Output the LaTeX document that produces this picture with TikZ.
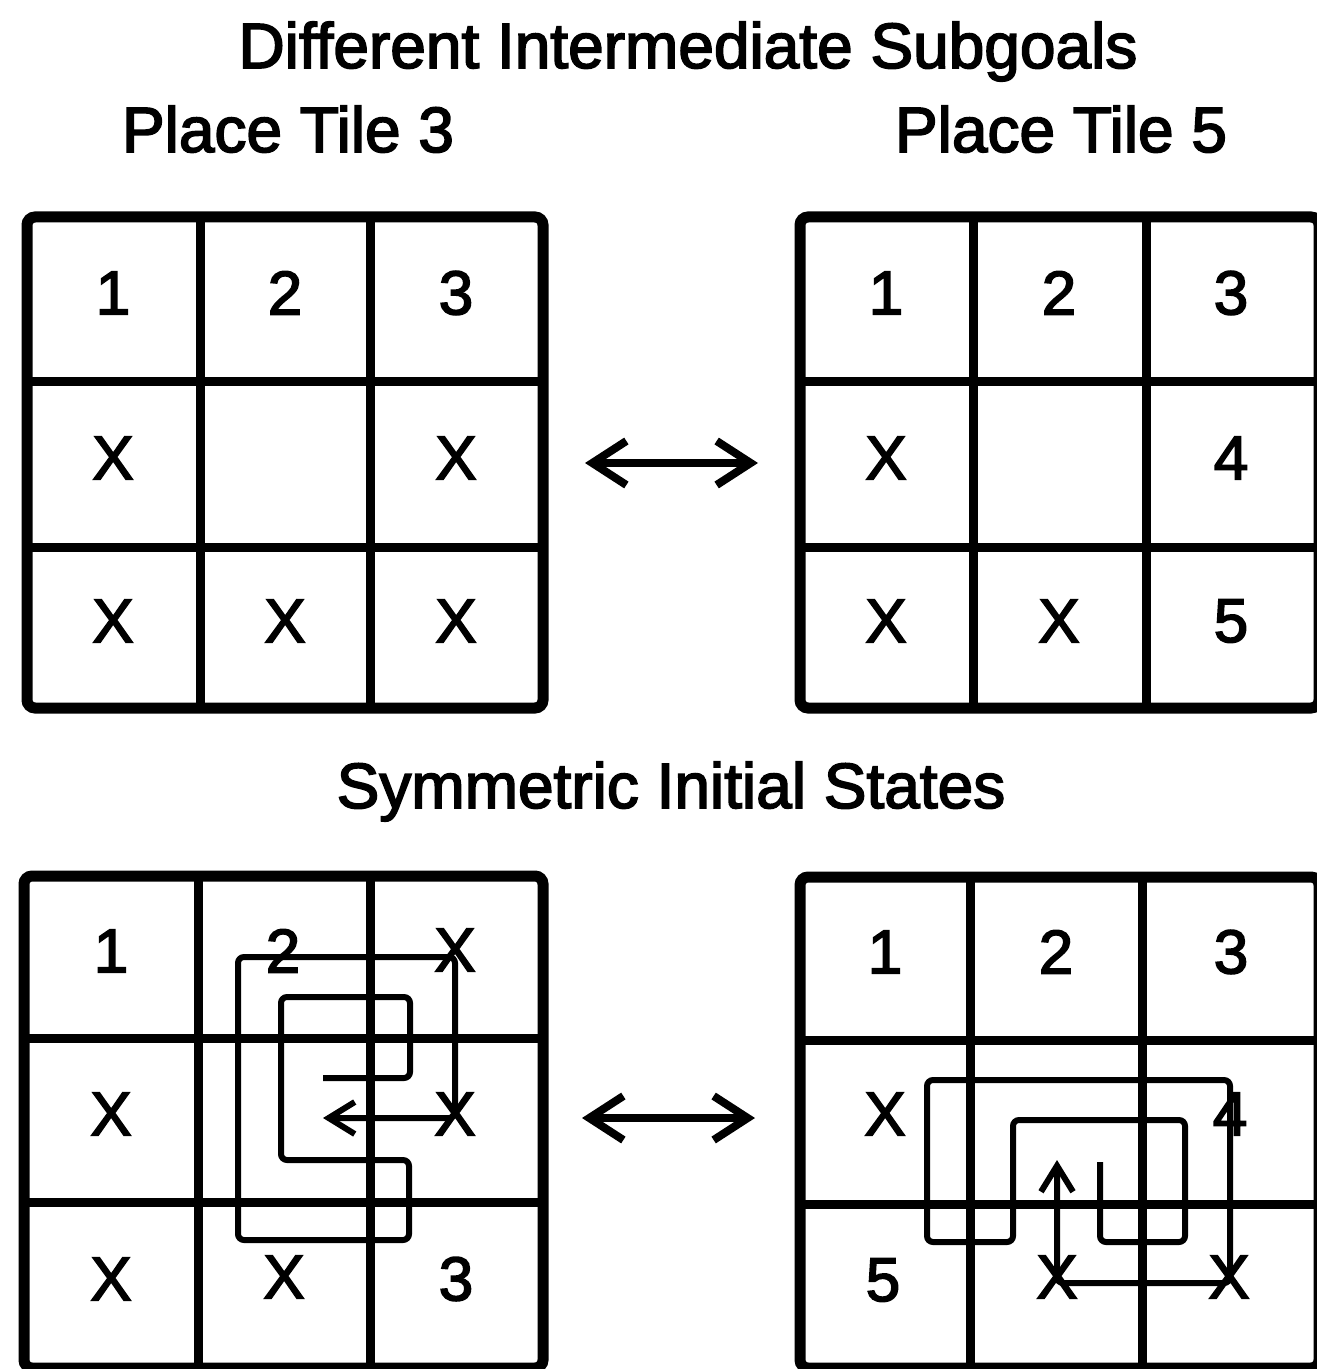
\documentclass[tikz,border=0pt]{standalone}
\usepackage{fontspec}
\setmainfont{Liberation Sans}
\newfontfamily\heavyfont{Liberation Sans}[FakeBold=2.6]
\usetikzlibrary{arrows.meta}
\newcommand{\pgrid}[8]{%
  \draw[gridline] (#2,#5) -- (#2,#8);
  \draw[gridline] (#3,#5) -- (#3,#8);
  \draw[gridline] (#1,#6) -- (#4,#6);
  \draw[gridline] (#1,#7) -- (#4,#7);
  \draw[border] (#1,#5) rectangle (#4,#8);
}
\begin{document}
\begin{tikzpicture}[x=0.5pt,y=-0.5pt,
  gridline/.style={line width=4.5pt},
  border/.style={line width=5.5pt, rounded corners=4pt},
  title/.style={font=\heavyfont\fontsize{32}{38}\selectfont, anchor=base, inner sep=0pt},
  celltext/.style={font=\heavyfont\fontsize{31}{36}\selectfont, inner sep=0pt},
  swaparrow/.style={line width=4pt, line cap=round,
    {Straight Barb[length=17pt,width=22pt]}-{Straight Barb[length=17pt,width=22pt]}},
  movepath/.style={line width=3pt, rounded corners=3pt,
    -{Straight Barb[length=13pt,width=16pt]}},
]
\useasboundingbox (0,0) rectangle (1316,1369);

% titles
\node[title] (t1) at (688,68) {Different Intermediate Subgoals};
\node[title] (t2) at (288,152) {Place Tile 3};
\node[title] (t3) at (1061,152) {Place Tile 5};
\node[title] (t4) at (671,808) {Symmetric Initial States};

% grids
\pgrid{27}{200}{370}{543}{217}{381}{547}{708}
\pgrid{800}{973}{1146}{1319}{217}{381}{547}{708}
\pgrid{24}{198}{370}{543}{876}{1038}{1202}{1368}
\pgrid{800}{970}{1142}{1319}{877}{1040}{1204}{1368}

% top-left grid texts
\node[celltext] (tl11) at (113,293) {1};
\node[celltext] (tl12) at (285,293) {2};
\node[celltext] (tl13) at (456,293) {3};
\node[celltext] (tl21) at (113,458) {X};
\node[celltext] (tl23) at (456,458) {X};
\node[celltext] (tl31) at (113,621) {X};
\node[celltext] (tl32) at (285,621) {X};
\node[celltext] (tl33) at (456,621) {X};

% top-right grid texts
\node[celltext] (tr11) at (886,293) {1};
\node[celltext] (tr12) at (1059,293) {2};
\node[celltext] (tr13) at (1231,293) {3};
\node[celltext] (tr21) at (886,458) {X};
\node[celltext] (tr23) at (1231,458) {4};
\node[celltext] (tr31) at (886,621) {X};
\node[celltext] (tr32) at (1059,621) {X};
\node[celltext] (tr33) at (1231,621) {5};

% bottom-left grid texts
\node[celltext] (bl11) at (111,951) {1};
\node[celltext] (bl12) at (283,951) {2};
\node[celltext] (bl13) at (455,950) {X};
\node[celltext] (bl21) at (111,1114) {X};
\node[celltext] (bl23) at (455,1114) {X};
\node[celltext] (bl31) at (111,1279) {X};
\node[celltext] (bl32) at (284,1277) {X};
\node[celltext] (bl33) at (456,1279) {3};

% bottom-right grid texts
\node[celltext] (br11) at (885,952) {1};
\node[celltext] (br12) at (1056,952) {2};
\node[celltext] (br13) at (1231,952) {3};
\node[celltext] (br21) at (885,1114) {X};
\node[celltext] (br23) at (1230,1114) {4};
\node[celltext] (br31) at (883,1280) {5};
\node[celltext] (br32) at (1057,1277) {X};
\node[celltext] (br33) at (1229,1277) {X};

% swap arrows
\coordinate (a1l) at (585,463);
\coordinate (a1r) at (758,463);
\coordinate (a2l) at (582,1118);
\coordinate (a2r) at (755,1118);
\draw[swaparrow] (a1l) -- (a1r);
\draw[swaparrow] (a2l) -- (a2r);

% blank-tile path, bottom-left
\coordinate (blstart) at (323,1078);
\coordinate (blX1) at (455,957);
\coordinate (blX2) at (455,1118);
\coordinate (blend) at (323,1118);
\draw[movepath] (blstart) -- (410,1078) -- (410,997) -- (281,997) -- (281,1160)
  -- (409,1160) -- (409,1240) -- (238,1240) -- (238,957) -- (blX1) -- (blX2) -- (blend);

% blank-tile path, bottom-right
\coordinate (brstart) at (1100,1162);
\coordinate (brX1) at (1230,1283);
\coordinate (brX2) at (1057,1283);
\coordinate (brend) at (1057,1160);
\draw[movepath] (brstart) -- (1100,1242) -- (1185,1242) -- (1185,1120) -- (1013,1120)
  -- (1013,1242) -- (927,1242) -- (927,1080) -- (1230,1080) -- (brX1) -- (brX2) -- (brend);
\end{tikzpicture}
\end{document}
